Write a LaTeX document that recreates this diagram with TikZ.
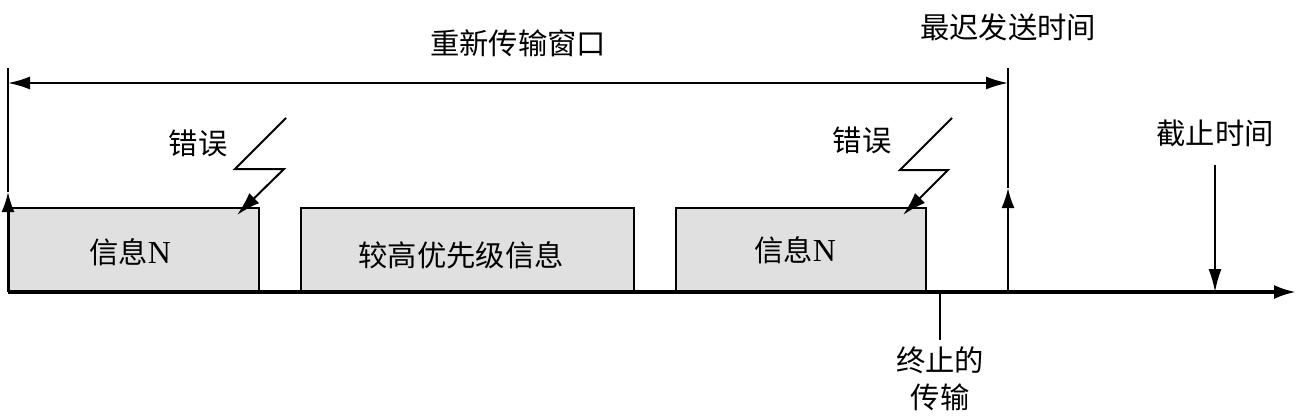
\documentclass[tikz,border=0pt]{standalone}
\usepackage{fontspec}
\setmainfont{Liberation Serif}
\newfontfamily\cjk{Noto Sans CJK SC}
\usetikzlibrary{arrows.meta}
\begin{document}
\begin{tikzpicture}[x=0.75pt,y=-0.75pt,
  msgbox/.style={draw=black,line width=1.6pt,fill=black!12,minimum width=#1*0.75pt,minimum height=83*0.75pt,inner sep=0pt,anchor=south west},
  lbl/.style={font=\fontsize{22}{26}\selectfont\cjk,inner sep=0pt},
  arr/.style={-{Latex[length=20pt*0.75,width=13pt*0.75]}},
  dblarr/.style={{Latex[length=22pt*0.75,width=13pt*0.75]}-{Latex[length=22pt*0.75,width=13pt*0.75]}},
  thin/.style={line width=1.5pt},
  axis/.style={line width=2.4pt}]
\useasboundingbox (0,0) rectangle (1301,418);
% boxes
\node[msgbox=250] (b1) at (8,292) {};
\node[msgbox=333] (b2) at (300,292) {};
\node[msgbox=250] (b3) at (675,292) {};
\node[lbl] at (130,252) {信息\rmfamily\fontsize{24}{26}\selectfont N};
\node[lbl] at (461,255) {较高优先级信息};
\node[lbl] at (795,250) {信息\rmfamily\fontsize{24}{26}\selectfont N};
% coordinates
\coordinate (o) at (8,292);
\coordinate (e) at (1296,292);
\coordinate (ltop) at (8,68);
\coordinate (lmid) at (8,192);
\coordinate (r0) at (1008,292);
\coordinate (rtop) at (1008,68);
\coordinate (rmid) at (1008,188);
\coordinate (wl) at (8,83);
\coordinate (wr) at (1008,83);
\coordinate (d0) at (1215,165);
\coordinate (d1) at (1215,292);
\coordinate (t0) at (940,292);
\coordinate (t1) at (940,340);
% axis
\draw[axis,-{Latex[length=22pt*0.75,width=14pt*0.75]}] (o) -- (e);
% left vertical
\draw[thin] (lmid) -- (ltop);
\draw[thin,arr] (o) -- (lmid);
% right vertical
\draw[thin] (rmid) -- (rtop);
\draw[thin,arr] (r0) -- (rmid);
% window arrow
\draw[thin,dblarr] (wl) -- (wr);
% deadline
\draw[thin,-{Latex[length=23pt*0.75,width=13pt*0.75]}] (d0) -- (d1);
% terminated
\draw[thin] (t0) -- (t1);
% lightning
\coordinate (z1a) at (286,118); \coordinate (z1b) at (235,169); \coordinate (z1c) at (284,169); \coordinate (z1d) at (237,215);
\draw[thin,-{Latex[length=24pt*0.75,width=14pt*0.75]}] (z1a) -- (z1b) -- (z1c) -- (z1d);
\coordinate (z2a) at (952,118); \coordinate (z2b) at (900,170); \coordinate (z2c) at (948,170); \coordinate (z2d) at (903,215);
\draw[thin,-{Latex[length=24pt*0.75,width=14pt*0.75]}] (z2a) -- (z2b) -- (z2c) -- (z2d);
% labels
\node[lbl] (w) at (518,43) {重新传输窗口};
\node[lbl] (l) at (1008,27) {最迟发送时间};
\node[lbl] (e1) at (198,143) {错误};
\node[lbl] (e2) at (862,140) {错误};
\node[lbl] (dl) at (1215,133) {截止时间};
\node[lbl,align=center] (tm) at (940,379) {终止的\\[2pt]传输};
\end{tikzpicture}
\end{document}
